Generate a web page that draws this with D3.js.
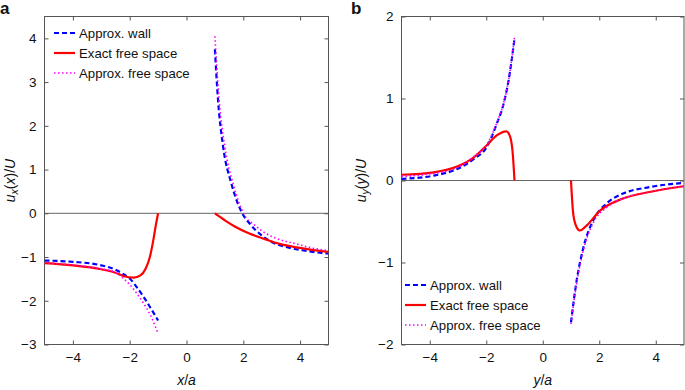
<!DOCTYPE html>
<html lang="en">
<head>
<meta charset="UTF-8">
<title>velocity profiles</title>
<script src="https://cdn.jsdelivr.net/npm/d3@7"></script>
<style>
  body{margin:0;background:#fff;}
  text{font-family:"Liberation Sans",Arial,sans-serif;fill:#111;}
  .tick text{font-size:13.5px;}
  .leg text{font-size:13.2px;}
</style>
</head>
<body>
<div id="container"></div>
<script>
// panel a : u_x(x)/U
var aWallLeft  = [[-5,-1.08],[-4,-1.11],[-3,-1.19],[-2.5,-1.29],[-2.2,-1.40],[-2,-1.49],[-1.74,-1.70],[-1.5,-1.92],[-1.27,-2.16],[-1,-2.45]];
var aWallRight = [[1,3.75],[1.11,2.59],[1.29,1.52],[1.58,0.68],[1.94,0.03],[2.23,-0.24],[2.58,-0.47],[2.93,-0.63],[3.64,-0.79],[4.23,-0.86],[4.81,-0.91],[5,-0.92]];
var aExactLeft  = [[-5,-1.14],[-4,-1.19],[-3,-1.28],[-2.5,-1.36],[-2.2,-1.44],[-1.86,-1.47],[-1.62,-1.42],[-1.44,-1.27],[-1.29,-1.0],[-1.17,-0.62],[-1.09,-0.31],[-1,0]];
var aExactRight = [[1,0],[1.1,-0.05],[1.35,-0.16],[1.7,-0.30],[2.17,-0.45],[2.76,-0.59],[3.28,-0.70],[3.87,-0.78],[4.46,-0.84],[5,-0.88]];
var aFreeLeft  = [[-5,-1.13],[-4,-1.18],[-3,-1.27],[-2.5,-1.35],[-2.2,-1.50],[-2,-1.63],[-1.74,-1.84],[-1.5,-2.07],[-1.27,-2.33],[-1,-2.75]];
var aFreeRight = [[1,4.05],[1.15,2.59],[1.35,1.52],[1.64,0.68],[2.05,-0.05],[2.4,-0.27],[2.82,-0.47],[3.28,-0.60],[3.87,-0.70],[4.46,-0.80],[5,-0.85]];

// panel b : u_y(y)/U
var bWallLeft  = [[-5,0.02],[-3.86,0.06],[-3.03,0.14],[-2.45,0.26],[-1.98,0.41],[-1.63,0.69],[-1.39,0.93],[-1.21,1.22],[-1,1.73]];
var bWallRight = [[1,-1.73],[1.2,-1.22],[1.43,-0.83],[1.78,-0.49],[2.26,-0.28],[2.84,-0.16],[3.78,-0.08],[5,-0.03]];
var bExactLeft  = [[-5,0.07],[-3.86,0.10],[-3.03,0.17],[-2.45,0.28],[-1.98,0.43],[-1.63,0.55],[-1.29,0.60],[-1.15,0.53],[-1.06,0.32],[-1,0]];
var bExactRight = [[1,0],[1.08,-0.41],[1.2,-0.57],[1.32,-0.61],[1.55,-0.55],[2.02,-0.37],[2.84,-0.22],[3.78,-0.14],[5,-0.07]];
var bFreeLeft  = [[-5,0.05],[-4,0.08],[-3,0.16],[-2.45,0.29],[-1.98,0.44],[-1.63,0.70],[-1.39,0.94],[-1.21,1.22],[-1,1.75]];
var bFreeRight = [[1,-1.75],[1.2,-1.25],[1.43,-0.86],[1.78,-0.52],[2.26,-0.33],[2.84,-0.22],[3.78,-0.14],[5,-0.07]];

var xTicks = [-4,-2,0,2,4];
var aYTicks = [-3,-2,-1,0,1,2,3,4];
var bYTicks = [-2,-1,0,1,2];
var legendNames = ["Approx. wall","Exact free space","Approx. free space"];

var width = 685, height = 390;
var svg = d3.select("#container").append("svg")
  .attr("width", width).attr("height", height);

var styles = [
  {color:"#0000ff", w:2.2, dash:"5,3"},
  {color:"#ff0000", w:2.2, dash:null},
  {color:"#ff00ff", w:1.6, dash:"1.5,2.5"}
];

var fmt = function(d){ return d < 0 ? "\u2212" + Math.abs(d) : d; };

function panel(opt){
  var x = d3.scaleLinear().domain([-5,5]).range([opt.left, opt.right]);
  var y = d3.scaleLinear().domain(opt.ydom).range([opt.bottom, opt.top]);
  var g = svg.append("g");

  g.append("clipPath").attr("id", "clip" + opt.id)
    .append("rect").attr("x", opt.left).attr("y", opt.top)
    .attr("width", opt.right - opt.left).attr("height", opt.bottom - opt.top);

  // zero line
  g.append("line").attr("x1", opt.left).attr("x2", opt.right)
    .attr("y1", y(0)).attr("y2", y(0))
    .attr("stroke", "#666").attr("stroke-width", 1);

  // axes, ticks inside on all sides
  var ax = [
    [d3.axisBottom(x).tickValues(xTicks).tickFormat(fmt), "translate(0," + opt.bottom + ")"],
    [d3.axisTop(x).tickValues(xTicks).tickFormat(""), "translate(0," + opt.top + ")"],
    [d3.axisLeft(y).tickValues(opt.yticks).tickFormat(fmt), "translate(" + opt.left + ",0)"],
    [d3.axisRight(y).tickValues(opt.yticks).tickFormat(""), "translate(" + opt.right + ",0)"]
  ];
  ax.forEach(function(a){
    var s = g.append("g").attr("transform", a[1])
      .call(a[0].tickSizeInner(-4).tickSizeOuter(0).tickPadding(8));
    s.select(".domain").remove();
    s.selectAll("line").attr("stroke", "#555");
  });

  g.append("rect").attr("x", opt.left).attr("y", opt.top)
    .attr("width", opt.right - opt.left).attr("height", opt.bottom - opt.top)
    .attr("fill", "none").attr("stroke", "#555").attr("stroke-width", 1);

  var line = d3.line().x(function(d){ return x(d[0]); }).y(function(d){ return y(d[1]); })
    .curve(d3.curveMonotoneX);

  opt.series.forEach(function(branches, i){
    branches.forEach(function(b){
      g.append("path").datum(b).attr("d", line)
        .attr("clip-path", "url(#clip" + opt.id + ")")
        .attr("fill", "none").attr("stroke", styles[i].color)
        .attr("stroke-width", styles[i].w)
        .attr("stroke-dasharray", styles[i].dash);
    });
  });

  // legend
  var leg = g.append("g").attr("class", "leg");
  legendNames.forEach(function(n, i){
    var yy = opt.legY + i * 20;
    leg.append("line").attr("x1", opt.legX).attr("x2", opt.legX + 21)
      .attr("y1", yy).attr("y2", yy)
      .attr("stroke", styles[i].color).attr("stroke-width", styles[i].w)
      .attr("stroke-dasharray", styles[i].dash);
    leg.append("text").attr("x", opt.legX + 25).attr("y", yy + 4.5).text(n);
  });

  // panel letter
  g.append("text").attr("x", opt.letterX).attr("y", 14)
    .attr("font-size", 17).attr("font-weight", "bold").text(opt.letter);

  // x label
  var xl = g.append("text").attr("x", (opt.left + opt.right) / 2).attr("y", 385)
    .attr("text-anchor", "middle").attr("font-size", 14);
  xl.append("tspan").attr("font-style", "italic").text(opt.v);
  xl.append("tspan").text("/");
  xl.append("tspan").attr("font-style", "italic").text("a");

  // y label
  var yl = g.append("text")
    .attr("transform", "translate(" + opt.ylabX + "," + ((opt.top + opt.bottom) / 2) + ") rotate(-90)")
    .attr("text-anchor", "middle").attr("font-size", 14);
  yl.append("tspan").attr("font-style", "italic").text("u");
  yl.append("tspan").attr("font-style", "italic").attr("font-size", 10.5).attr("dy", 3).text(opt.sub);
  yl.append("tspan").attr("dy", -3).text("(");
  yl.append("tspan").attr("font-style", "italic").text(opt.v);
  yl.append("tspan").text(")/");
  yl.append("tspan").attr("font-style", "italic").text("U");
}

panel({id:"a", letter:"a", letterX:0, v:"x", sub:"x", ylabX:15,
  left:44.5, right:328.5, top:16.5, bottom:344.5, ydom:[-3,4.5], yticks:aYTicks,
  legX:54, legY:33,
  series:[[aWallLeft,aWallRight],[aExactLeft,aExactRight],[aFreeLeft,aFreeRight]]});

panel({id:"b", letter:"b", letterX:351, v:"y", sub:"y", ylabX:366,
  left:401.5, right:684, top:16.5, bottom:344.5, ydom:[-2,2], yticks:bYTicks,
  legX:405, legY:285,
  series:[[bWallLeft,bWallRight],[bExactLeft,bExactRight],[bFreeLeft,bFreeRight]]});
</script>
</body>
</html>
